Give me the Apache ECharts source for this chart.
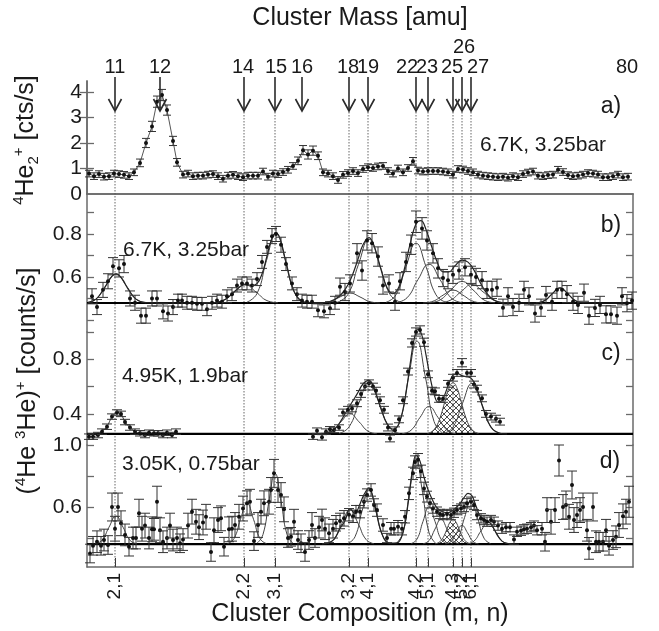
<!DOCTYPE html>
<html>
<head>
<meta charset="utf-8">
<script src="https://cdn.jsdelivr.net/npm/echarts@6/dist/echarts.min.js"></script>
<style>
  html, body { margin: 0; background: #fff; }
  #chart { width: 659px; height: 631px; }
</style>
</head>
<body>
<div id="chart"></div>
<script>
// x is the scan channel (0..546 across the frame)
const compChan = [28, 157, 188, 262, 281, 329, 341, 366, 375, 384];
const compLabels = ['2,1', '2,2', '3,1', '3,2', '4,1', '4,2', '5,1', '4,3', '5,2', '6,1'];
const arrowChan = [28, 73, 157, 188, 215, 262, 281, 329, 341, 366, 375, 384];
const massLabels = ['11', '12', '14', '15', '16', '18', '19', '22', '23', '25', '26', '27', '80'];
const massLabelChan = [28, 73, 156, 189, 215, 261, 281, 320, 340, 365, 377, 391, 540];

// panel a) [channel, counts, error]
const aData = [[2,0.80,0.13],[7,0.70,0.13],[12,0.78,0.13],[17,0.68,0.13],[22,0.70,0.13],[27,0.80,0.13],[32,0.78,0.13],[37,0.75,0.13],[42,0.70,0.13],[47,0.85,0.13],[53,1.22,0.15],[59,2.00,0.18],[65,2.65,0.2],[70,3.62,0.22],[75,3.88,0.22],[80,3.29,0.2],[86,2.08,0.18],[90,1.24,0.15],[96,0.76,0.13],[101,0.80,0.13],[106,0.70,0.13],[111,0.72,0.13],[116,0.72,0.13],[121,0.76,0.13],[126,0.78,0.13],[131,0.70,0.13],[136,0.60,0.13],[141,0.72,0.13],[146,0.75,0.13],[151,0.70,0.13],[156,0.66,0.13],[161,0.72,0.13],[166,0.72,0.13],[171,0.72,0.13],[176,0.88,0.13],[181,0.68,0.13],[186,0.80,0.13],[191,0.78,0.13],[196,0.86,0.13],[201,0.95,0.13],[206,1.10,0.13],[211,1.30,0.15],[216,1.72,0.18],[221,1.55,0.18],[226,1.70,0.18],[231,1.50,0.15],[236,0.85,0.13],[241,0.80,0.13],[246,0.70,0.13],[251,0.55,0.13],[256,0.75,0.13],[261,0.82,0.13],[266,0.90,0.13],[271,0.82,0.13],[276,0.98,0.13],[281,1.05,0.13],[286,1.02,0.13],[291,1.08,0.13],[296,1.10,0.13],[301,0.90,0.13],[306,0.80,0.13],[311,1.00,0.13],[316,0.85,0.13],[321,1.02,0.13],[326,1.28,0.15],[331,0.92,0.13],[336,0.88,0.13],[341,0.90,0.13],[346,0.90,0.13],[351,0.90,0.13],[356,0.88,0.13],[361,0.85,0.13],[366,0.76,0.13],[371,0.98,0.13],[376,0.96,0.13],[381,0.90,0.13],[386,0.85,0.13],[391,0.76,0.13],[396,0.72,0.13],[401,0.70,0.13],[406,0.68,0.13],[411,0.66,0.13],[416,0.68,0.13],[421,0.64,0.13],[426,0.70,0.13],[431,0.66,0.13],[436,0.78,0.13],[441,0.84,0.13],[446,0.88,0.13],[451,0.72,0.13],[456,0.70,0.13],[461,0.74,0.13],[466,0.76,0.13],[471,0.95,0.13],[476,0.86,0.13],[481,0.74,0.13],[486,0.70,0.13],[491,0.72,0.13],[496,0.76,0.13],[501,0.82,0.13],[506,0.80,0.13],[511,0.76,0.13],[516,0.66,0.13],[521,0.66,0.13],[526,0.70,0.13],[531,0.76,0.13],[536,0.66,0.13],[541,0.68,0.13]];

// panel b) 6.7K, 3.25bar
const bBase = 0.479;
const bData = [[5,0.51,0.035],[10,0.46,0.035],[16,0.54,0.035],[21,0.58,0.035],[26,0.65,0.04],[32,0.64,0.04],[37,0.66,0.04],[43,0.50,0.035],[48,0.48,0.035],[54,0.42,0.035],[59,0.42,0.035],[65,0.50,0.035],[70,0.50,0.035],[76,0.44,0.035],[81,0.43,0.035],[86,0.46,0.035],[91,0.49,0.03],[95,0.49,0.03],[100,0.48,0.03],[105,0.48,0.03],[110,0.475,0.03],[115,0.475,0.03],[120,0.45,0.03],[125,0.48,0.03],[130,0.49,0.03],[135,0.485,0.03],[140,0.51,0.03],[145,0.52,0.03],[150,0.56,0.03],[155,0.57,0.03],[160,0.57,0.03],[165,0.56,0.03],[170,0.59,0.03],[175,0.67,0.03],[180,0.74,0.03],[185,0.79,0.035],[189,0.80,0.035],[194,0.75,0.035],[199,0.66,0.03],[205,0.57,0.03],[210,0.52,0.03],[215,0.49,0.03],[220,0.485,0.03],[225,0.485,0.03],[231,0.445,0.03],[237,0.44,0.03],[243,0.455,0.03],[248,0.48,0.03],[253,0.555,0.04],[258,0.53,0.04],[263,0.57,0.04],[270,0.71,0.045],[275,0.63,0.045],[280,0.77,0.045],[285,0.757,0.045],[291,0.695,0.045],[296,0.56,0.04],[302,0.57,0.04],[308,0.485,0.04],[313,0.58,0.04],[319,0.67,0.045],[324,0.75,0.045],[329,0.857,0.05],[335,0.826,0.05],[340,0.77,0.045],[346,0.71,0.045],[351,0.64,0.045],[356,0.595,0.04],[361,0.585,0.04],[366,0.61,0.04],[372,0.63,0.04],[378,0.645,0.04],[384,0.61,0.04],[389,0.60,0.04],[395,0.585,0.04],[400,0.54,0.04],[405,0.54,0.04],[410,0.55,0.04],[416,0.457,0.04],[421,0.51,0.04],[426,0.46,0.04],[432,0.48,0.04],[437,0.54,0.04],[442,0.51,0.04],[448,0.43,0.04],[454,0.457,0.04],[459,0.516,0.04],[465,0.485,0.04],[470,0.54,0.04],[475,0.54,0.04],[480,0.52,0.04],[486,0.485,0.04],[491,0.47,0.04],[497,0.527,0.04],[502,0.42,0.04],[508,0.456,0.04],[513,0.47,0.04],[519,0.426,0.04],[524,0.426,0.04],[530,0.42,0.04],[535,0.51,0.04],[540,0.478,0.04],[545,0.49,0.04]];
const bFits = [
  [[1,0.48],[9,0.497],[19,0.561],[29,0.614],[39,0.561],[49,0.497],[59,0.48]],
  [[125,0.48],[136,0.49],[147,0.53],[158,0.563],[169,0.53],[180,0.49],[191,0.48]],
  [[160,0.483],[170,0.523],[179.5,0.677],[189,0.805],[198.5,0.677],[208,0.523],[218,0.483]],
  [[233,0.479],[243,0.485],[253,0.507],[263,0.525],[273,0.507],[283,0.485],[293,0.479]],
  [[250,0.482],[261,0.519],[271.5,0.659],[282,0.775],[292.5,0.659],[303,0.519],[314,0.482]],
  [[299,0.482],[309,0.517],[319,0.648],[329,0.757],[339,0.648],[349,0.517],[359,0.482]],
  [[309,0.481],[320,0.503],[331,0.588],[342,0.659],[353,0.588],[364,0.503],[375,0.481]],
  [[336,0.479],[346,0.487],[356,0.515],[366,0.539],[376,0.515],[386,0.487],[396,0.479]],
  [[342,0.48],[353,0.493],[364,0.54],[375,0.579],[386,0.54],[397,0.493],[408,0.48]],
  [[352,0.48],[363,0.491],[374,0.531],[385,0.565],[396,0.531],[407,0.491],[418,0.48]],
  [[449,0.48],[457,0.488],[465,0.521],[473,0.549],[481,0.521],[489,0.488],[497,0.48]]
];
const bEnvelope = [[1,0.482],[9,0.497],[17,0.545],[23,0.592],[29,0.614],[35,0.592],[41,0.545],[49,0.497],[59,0.481],[113,0.479],[128,0.481],[138,0.495],[146,0.525],[153,0.555],[158,0.565],[164,0.561],[170,0.569],[175,0.614],[180,0.698],[184,0.768],[189,0.807],[194,0.763],[199,0.666],[204,0.573],[210,0.507],[218,0.482],[238,0.481],[248,0.496],[255,0.523],[261,0.564],[266,0.616],[271,0.683],[276,0.75],[282,0.783],[288,0.733],[294,0.634],[300,0.551],[306,0.522],[312,0.554],[318,0.649],[323,0.752],[329,0.847],[334,0.862],[339,0.821],[344,0.751],[350,0.672],[356,0.624],[362,0.624],[368,0.652],[375,0.678],[381,0.669],[387,0.632],[393,0.576],[400,0.522],[407,0.493],[415,0.481],[448,0.479],[453,0.482],[459,0.494],[465,0.521],[473,0.549],[481,0.521],[487,0.494],[493,0.482],[513,0.479],[545,0.479]];

// panel c) 4.95K, 1.9bar
const cBase = 0.253;
const cData = [[2,0.233,0.02],[6,0.233,0.02],[11,0.245,0.02],[15,0.27,0.02],[20,0.306,0.02],[25,0.38,0.02],[30,0.41,0.02],[34,0.40,0.02],[38,0.34,0.02],[43,0.30,0.02],[48,0.27,0.02],[53,0.258,0.02],[58,0.245,0.02],[62,0.262,0.02],[67,0.258,0.02],[71,0.258,0.02],[76,0.245,0.02],[80,0.262,0.02],[85,0.245,0.02],[89,0.27,0.02],
  [226,0.233,0.02],[230,0.277,0.02],[235,0.228,0.02],[239,0.27,0.02],[243,0.287,0.02],[247,0.282,0.02],[252,0.30,0.02],[256,0.41,0.025],[261,0.43,0.025],[265,0.44,0.025],[270,0.478,0.025],[274,0.546,0.025],[278,0.60,0.025],[282,0.624,0.025],[286,0.60,0.025],[289,0.57,0.025],[293,0.50,0.025],[297,0.43,0.025],[301,0.30,0.025],[303,0.22,0.025],[308,0.28,0.025],[312,0.36,0.025],[316,0.50,0.025],[321,0.71,0.025],[325,0.92,0.03],[329,1.00,0.03],[333,1.015,0.03],[337,0.925,0.03],[341,0.69,0.025],[345,0.57,0.025],[348,0.565,0.025],[352,0.51,0.025],[356,0.51,0.025],[361,0.62,0.025],[366,0.665,0.025],[370,0.70,0.025],[375,0.775,0.03],[380,0.70,0.025],[384,0.70,0.025],[387,0.615,0.025],[390,0.585,0.025],[395,0.514,0.025],[399,0.40,0.025],[404,0.38,0.025],[409,0.365,0.025],[413,0.343,0.025]];
const cFits = [
  [[236,0.255],[245,0.273],[254,0.342],[263,0.40],[272,0.342],[281,0.273],[290,0.255]],
  [[252,0.257],[262,0.304],[272,0.481],[282,0.629],[292,0.481],[302,0.304],[312,0.257]],
  [[304.5,0.26],[313,0.345],[321.5,0.666],[330,0.933],[338.5,0.666],[347,0.345],[355.5,0.26]],
  [[315,0.255],[324,0.28],[333,0.374],[342,0.453],[351,0.374],[360,0.28],[369,0.255]],
  [[356.5,0.257],[366,0.303],[375.5,0.478],[385,0.623],[394.5,0.478],[404,0.303],[413.5,0.257]]
];
const cHatch = [[340.5,0.257],[344.75,0.27],[349,0.304],[353.25,0.375],[357.5,0.481],[361.75,0.584],[366,0.628],[370.25,0.584],[374.5,0.481],[378.75,0.375],[383,0.304],[387.25,0.27],[391.5,0.257]];
const cEnvelope = [[225,0.253],[240,0.259],[248,0.291],[255,0.362],[260,0.425],[265,0.485],[270,0.545],[276,0.619],[282,0.645],[288,0.57],[294,0.436],[300,0.329],[306,0.288],[312,0.33],[318,0.51],[323,0.759],[327,0.942],[331,1.023],[335,0.973],[339,0.832],[343,0.673],[347,0.547],[351,0.486],[355,0.497],[359,0.565],[363,0.643],[367,0.69],[371,0.694],[375,0.68],[379,0.672],[383,0.666],[387,0.633],[391,0.561],[396,0.443],[401,0.343],[406,0.285],[412,0.26],[420,0.253]];

// panel d) 3.05K, 0.75bar
const dBase = 0.361;
const dData = [[3,0.30,0.06],[6,0.35,0.06],[10,0.376,0.07],[14,0.35,0.06],[17,0.387,0.07],[21,0.355,0.06],[25,0.60,0.09],[28,0.46,0.08],[31,0.60,0.09],[34,0.495,0.08],[38,0.42,0.07],[42,0.344,0.06],[46,0.40,0.07],[49,0.40,0.07],[52,0.56,0.09],[55,0.46,0.08],[58,0.48,0.08],[62,0.40,0.07],[65,0.456,0.08],[67,0.456,0.07],[70,0.634,0.1],[73,0.45,0.08],[76,0.376,0.07],[80,0.40,0.07],[83,0.48,0.08],[86,0.387,0.07],[90,0.40,0.07],[93,0.366,0.06],[96,0.39,0.07],[101,0.48,0.08],[105,0.57,0.08],[109,0.505,0.08],[112,0.47,0.08],[116,0.50,0.08],[119,0.537,0.08],[124,0.31,0.06],[127,0.45,0.08],[131,0.516,0.08],[134,0.527,0.08],[137,0.344,0.06],[142,0.456,0.08],[145,0.46,0.08],[148,0.484,0.08],[152,0.537,0.08],[156,0.59,0.08],[160,0.624,0.08],[163,0.634,0.08],[167,0.38,0.06],[171,0.484,0.08],[174,0.57,0.08],[177,0.624,0.08],[182,0.634,0.08],[184,0.71,0.08],[187,0.817,0.09],[191,0.71,0.08],[194,0.677,0.08],[197,0.585,0.08],[201,0.40,0.06],[204,0.408,0.06],[207,0.505,0.08],[211,0.387,0.06],[214,0.366,0.06],[218,0.31,0.06],[222,0.387,0.06],[225,0.484,0.08],[228,0.40,0.06],[232,0.47,0.07],[235,0.516,0.07],[238,0.46,0.07],[242,0.43,0.06],[246,0.46,0.06],[249,0.495,0.05],[253,0.51,0.05],[257,0.527,0.05],[262,0.55,0.04],[266,0.54,0.04],[269,0.57,0.04],[273,0.57,0.04],[277,0.634,0.04],[280,0.677,0.04],[284,0.71,0.04],[287,0.613,0.04],[290,0.58,0.04],[296,0.484,0.04],[300,0.40,0.03],[304,0.46,0.04],[307,0.46,0.04],[311,0.473,0.04],[315,0.46,0.04],[318,0.537,0.04],[322,0.688,0.04],[326,0.817,0.04],[328,0.89,0.04],[331,0.905,0.04],[334,0.83,0.04],[337,0.72,0.04],[340,0.667,0.035],[343,0.624,0.03],[346,0.59,0.03],[350,0.57,0.03],[353,0.555,0.03],[356,0.548,0.03],[360,0.555,0.03],[364,0.548,0.03],[367,0.563,0.03],[370,0.58,0.03],[374,0.59,0.03],[377,0.60,0.03],[380,0.624,0.03],[384,0.634,0.03],[387,0.613,0.03],[390,0.548,0.03],[394,0.527,0.03],[397,0.516,0.03],[400,0.505,0.03],[404,0.516,0.03],[407,0.505,0.03],[411,0.48,0.03],[415,0.46,0.03],[419,0.47,0.03],[423,0.47,0.03],[427,0.39,0.03],[430,0.44,0.03],[434,0.447,0.03],[437,0.456,0.03],[440,0.46,0.03],[444,0.47,0.03],[447,0.48,0.03],[450,0.45,0.03],[455,0.46,0.04],[458,0.376,0.06],[460,0.58,0.08],[464,0.505,0.08],[468,0.58,0.08],[472,0.90,0.1],[476,0.60,0.08],[479,0.613,0.09],[482,0.537,0.08],[485,0.742,0.09],[487,0.516,0.08],[490,0.548,0.08],[493,0.58,0.08],[496,0.60,0.09],[500,0.45,0.07],[502,0.333,0.07],[506,0.60,0.09],[509,0.376,0.07],[512,0.376,0.06],[516,0.376,0.06],[519,0.45,0.07],[522,0.35,0.06],[526,0.387,0.06],[529,0.408,0.07],[532,0.484,0.08],[536,0.54,0.08],[539,0.57,0.08],[542,0.634,0.1]];
const dFits = [
  [[8,0.363],[15,0.385],[22,0.47],[29,0.541],[36,0.47],[43,0.385],[50,0.363]],
  [[140.5,0.364],[147,0.396],[153.5,0.521],[160,0.624],[166.5,0.521],[173,0.396],[179.5,0.364]],
  [[170,0.366],[176,0.423],[182,0.638],[188,0.817],[194,0.638],[200,0.423],[206,0.366]],
  [[239,0.363],[247,0.391],[255,0.495],[263,0.581],[271,0.495],[279,0.391],[287,0.363]],
  [[261,0.365],[268,0.408],[275,0.573],[282,0.711],[289,0.573],[296,0.408],[303,0.365]],
  [[309.5,0.367],[316,0.435],[322.5,0.695],[329,0.911],[335.5,0.695],[342,0.435],[348.5,0.367]],
  [[324,0.364],[330,0.393],[336,0.507],[342,0.601],[348,0.507],[354,0.393],[360,0.364]],
  [[336,0.363],[342,0.383],[348,0.458],[354,0.521],[360,0.458],[366,0.383],[372,0.363]],
  [[358.5,0.362],[364,0.377],[369.5,0.434],[375,0.481],[380.5,0.434],[386,0.377],[391.5,0.362]],
  [[364.5,0.364],[371,0.399],[377.5,0.531],[384,0.641],[390.5,0.531],[397,0.399],[403.5,0.364]],
  [[380,0.363],[387,0.38],[394,0.446],[401,0.501],[408,0.446],[415,0.38],[422,0.363]]
];
const dHatch = [[348,0.363],[351,0.368],[354,0.383],[357,0.413],[360,0.458],[363,0.502],[366,0.521],[369,0.502],[372,0.458],[375,0.413],[378,0.383],[381,0.368],[384,0.363]];
const dEnvelope = [[235,0.362],[240,0.365],[247,0.391],[253,0.462],[258,0.511],[263,0.59],[268,0.557],[272,0.604],[277,0.68],[282,0.724],[287,0.634],[292,0.487],[297,0.396],[302,0.367],[310,0.369],[316,0.435],[321,0.619],[325,0.82],[329,0.934],[333,0.896],[337,0.792],[341,0.713],[345,0.652],[349,0.603],[353,0.579],[357,0.566],[361,0.563],[365,0.576],[369,0.595],[373,0.622],[377,0.66],[381,0.688],[385,0.672],[389,0.606],[393,0.542],[397,0.518],[401,0.51],[405,0.482],[410,0.422],[415,0.38],[420,0.365],[426,0.361]];

const FONT = '"Liberation Sans", Arial, sans-serif';
const INK = '#1a1a1a';
const FRAME = '#6a6a6a';
const panels = [[81, 113], [194, 138], [332, 113], [445, 122]];
const frameBottom = panels[3][0] + panels[3][1];

// cross hatch tile
const hatchTile = document.createElement('canvas');
hatchTile.width = 6; hatchTile.height = 6;
(function () {
  const ctx = hatchTile.getContext('2d');
  ctx.strokeStyle = '#222'; ctx.lineWidth = 0.8;
  ctx.beginPath();
  ctx.moveTo(0, 0); ctx.lineTo(6, 6);
  ctx.moveTo(6, 0); ctx.lineTo(0, 6);
  ctx.stroke();
})();

const chart = echarts.init(document.getElementById('chart'));

function errItem(cap) {
  return function (params, api) {
    const x = api.value(0), y = api.value(1), e = api.value(2);
    const p = api.coord([x, y]);
    const t = api.coord([x, y + e])[1];
    const b = api.coord([x, y - e])[1];
    const st = { stroke: '#333', lineWidth: 1 };
    return {
      type: 'group',
      children: [
        { type: 'line', shape: { x1: p[0], y1: t, x2: p[0], y2: b }, style: st },
        { type: 'line', shape: { x1: p[0] - cap, y1: t, x2: p[0] + cap, y2: t }, style: st },
        { type: 'line', shape: { x1: p[0] - cap, y1: b, x2: p[0] + cap, y2: b }, style: st },
        { type: 'circle', shape: { cx: p[0], cy: p[1], r: 2 }, style: { fill: '#111' } }
      ]
    };
  };
}

function errSeries(xi, yi, data, cap) {
  return { type: 'custom', xAxisIndex: xi, yAxisIndex: yi, data: data, renderItem: errItem(cap), z: 6, silent: true };
}

function curve(xi, yi, pts, color, width, smooth) {
  return {
    type: 'line', xAxisIndex: xi, yAxisIndex: yi, data: pts, smooth: smooth, symbol: 'none', clip: false,
    lineStyle: { color: color, width: width }, z: 4, silent: true
  };
}

function hatchSeries(xi, yi, pts) {
  return {
    type: 'custom', xAxisIndex: xi, yAxisIndex: yi, data: pts, z: 3, silent: true,
    renderItem: function (params, api) {
      if (params.dataIndex !== 0) return null;
      return {
        type: 'polygon',
        shape: { points: pts.map(function (p) { return api.coord(p); }) },
        style: { fill: { image: hatchTile, repeat: 'repeat' }, stroke: null }
      };
    }
  };
}

function yPair(grid, min, max, ticks, labels, digits) {
  const base = {
    type: 'value', gridIndex: grid, min: min, max: max, splitLine: { show: false },
    axisLine: { show: true, lineStyle: { color: FRAME, width: 1.5 } }
  };
  const tick = { show: true, inside: true, length: 7, customValues: ticks, lineStyle: { color: FRAME, width: 1.3 } };
  return [
    Object.assign({}, base, {
      position: 'left', axisTick: tick,
      axisLabel: {
        show: true, customValues: labels, margin: 5, fontSize: 21, fontFamily: FONT, color: INK,
        formatter: function (v) { return v.toFixed(digits); }
      }
    }),
    Object.assign({}, base, { position: 'right', axisTick: tick, axisLabel: { show: false } })
  ];
}

const xBase = { type: 'value', min: 0, max: 546, splitLine: { show: false }, axisTick: { show: false }, axisLabel: { show: false } };
const lineFrame = { show: true, lineStyle: { color: FRAME, width: 1.5 } };

const xAxes = [
  Object.assign({}, xBase, {
    gridIndex: 0, position: 'top', axisLine: lineFrame,
    axisLabel: {
      show: true, customValues: massLabelChan, margin: 4, fontSize: 20, fontFamily: FONT, color: INK, hideOverlap: false,
      formatter: function (v) {
        const s = massLabels[massLabelChan.indexOf(v)];
        return s === '26' ? '{up|26}' : s;
      },
      rich: { up: { fontSize: 20, fontFamily: FONT, color: INK, padding: [0, 0, 20, 0] } }
    },
    name: 'Cluster Mass [amu]', nameLocation: 'middle', nameGap: 50,
    nameTextStyle: { fontSize: 25, fontFamily: FONT, color: INK }
  }),
  Object.assign({}, xBase, { gridIndex: 0, position: 'bottom', axisLine: lineFrame }),
  Object.assign({}, xBase, { gridIndex: 1, show: false }),
  Object.assign({}, xBase, { gridIndex: 2, show: false }),
  Object.assign({}, xBase, {
    gridIndex: 3, position: 'bottom', axisLine: lineFrame,
    axisTick: { show: true, inside: true, length: 9, customValues: compChan, lineStyle: { color: '#333', width: 1 } },
    name: 'Cluster Composition (m, n)', nameLocation: 'middle', nameGap: 35,
    nameTextStyle: { fontSize: 25, fontFamily: FONT, color: INK }
  })
];

const yAxes = [].concat(
  yPair(0, 0, 4.43, [1, 2, 3, 4], [0, 1, 2, 3, 4], 0),
  yPair(1, 0.344, 0.986, [0.4, 0.5, 0.6, 0.7, 0.8, 0.9], [0.6, 0.8], 1),
  yPair(2, 0.172, 1.0, [0.4, 0.6, 0.8, 1.0], [0.4, 0.8], 1),
  yPair(3, 0.213, 1.0, [0.4, 0.6, 0.8, 1.0], [0.6, 1.0], 1)
);

const series = [];

// guide lines and arrows (panel a)
series.push({
  type: 'custom', xAxisIndex: 1, yAxisIndex: 0, data: compChan.map(function (c) { return [c, 0]; }), z: 1, silent: true,
  renderItem: function (params, api) {
    const x = api.coord([api.value(0), 0])[0];
    return {
      type: 'line', shape: { x1: x, y1: params.coordSys.y + 31, x2: x, y2: frameBottom },
      style: { stroke: '#555', lineWidth: 0.9, lineDash: [1.5, 1.5] }
    };
  }
});
series.push({
  type: 'custom', xAxisIndex: 1, yAxisIndex: 0, data: arrowChan.map(function (c) { return [c, 0]; }), z: 7, silent: true,
  renderItem: function (params, api) {
    const x = api.coord([api.value(0), 0])[0];
    const y0 = params.coordSys.y - 4, y1 = params.coordSys.y + 30;
    const st = { stroke: '#2a2a2a', lineWidth: 1.6, fill: null };
    return {
      type: 'group', children: [
        { type: 'line', shape: { x1: x, y1: y0, x2: x, y2: y1 }, style: st },
        { type: 'polyline', shape: { points: [[x - 6.5, y1 - 12], [x, y1], [x + 6.5, y1 - 12]] }, style: st }
      ]
    };
  }
});

// composition labels under panel d (rotated, placed through the x scale)
series.push({
  type: 'custom', xAxisIndex: 4, yAxisIndex: 6, data: compChan.map(function (c, i) { return [c, i]; }), z: 8, silent: true,
  renderItem: function (params, api) {
    const x = api.coord([api.value(0), 0.5])[0];
    return {
      type: 'text', x: x, y: frameBottom + 6, rotation: Math.PI / 2,
      style: {
        text: compLabels[params.dataIndex], fontSize: 19, fontFamily: FONT, fill: INK,
        align: 'right', verticalAlign: 'middle'
      }
    };
  }
});

// panel a
series.push(curve(1, 0, aData.map(function (d) { return [d[0], d[1]]; }), '#555', 1, false));
series.push(errSeries(1, 0, aData, 4));

// panel b
series.push(curve(2, 2, [[0, bBase], [546, bBase]], '#000', 2.2, false));
bFits.forEach(function (f) { series.push(curve(2, 2, f, '#444', 1, 0.5)); });
series.push(curve(2, 2, bEnvelope, '#222', 1.2, 0.4));
series.push(errSeries(2, 2, bData, 5));

// panel c
series.push(curve(3, 4, [[0, cBase], [546, cBase]], '#000', 2.2, false));
series.push(hatchSeries(3, 4, cHatch));
cFits.concat([cHatch]).forEach(function (f) { series.push(curve(3, 4, f, '#444', 1, 0.5)); });
series.push(curve(3, 4, cEnvelope, '#222', 1.2, 0.4));
series.push(curve(3, 4, cData.filter(function (d) { return d[0] < 100; }).map(function (d) { return [d[0], d[1]]; }), '#333', 1, 0.3));
series.push(errSeries(3, 4, cData, 5));

// panel d
series.push(curve(4, 6, [[0, dBase], [546, dBase]], '#000', 2.2, false));
series.push(hatchSeries(4, 6, dHatch));
dFits.concat([dHatch]).forEach(function (f) { series.push(curve(4, 6, f, '#444', 1, 0.5)); });
series.push(curve(4, 6, dEnvelope, '#222', 1.2, 0.4));
series.push(errSeries(4, 6, dData, 5));

function label(x, y, text, size, align) {
  return {
    type: 'text', x: x, y: y, z: 20, silent: true,
    style: { text: text, fontSize: size, fontFamily: FONT, fill: INK, align: align || 'left', verticalAlign: 'middle', textAlign: align || 'left', textVerticalAlign: 'middle' }
  };
}

const nameRich = {
  b: { fontSize: 25, fontFamily: FONT, fill: INK, color: INK, lineHeight: 30 },
  s: { fontSize: 15, fontFamily: FONT, fill: INK, color: INK, lineHeight: 15, verticalAlign: 'top' },
  u: { fontSize: 15, fontFamily: FONT, fill: INK, color: INK, lineHeight: 15, verticalAlign: 'bottom' }
};

chart.setOption({
  animation: false,
  grid: panels.map(function (p) { return { left: 87, width: 546, top: p[0], height: p[1] }; }),
  xAxis: xAxes,
  yAxis: yAxes,
  graphic: [
    {
      type: 'text', x: 26, y: 140, rotation: Math.PI / 2, z: 20, silent: true,
      style: { text: '{s|4}{b|He}{u|2}{s|+}{b| [cts/s]}', rich: nameRich, align: 'center', verticalAlign: 'middle', textAlign: 'center', textVerticalAlign: 'middle' }
    },
    {
      type: 'text', x: 28, y: 381, rotation: Math.PI / 2, z: 20, silent: true,
      style: { text: '{b|(}{s|4}{b|He }{s|3}{b|He)}{s|+}{b| [counts/s]}', rich: nameRich, align: 'center', verticalAlign: 'middle', textAlign: 'center', textVerticalAlign: 'middle' }
    },
    label(611, 107, 'a)', 23, 'center'),
    label(611, 226, 'b)', 23, 'center'),
    label(611, 354, 'c)', 23, 'center'),
    label(610, 462, 'd)', 23, 'center'),
    label(480, 145, '6.7K, 3.25bar', 21),
    label(123, 250, '6.7K, 3.25bar', 21),
    label(122, 376, '4.95K, 1.9bar', 21),
    label(122, 464, '3.05K, 0.75bar', 21)
  ],
  series: series
});
</script>
</body>
</html>
